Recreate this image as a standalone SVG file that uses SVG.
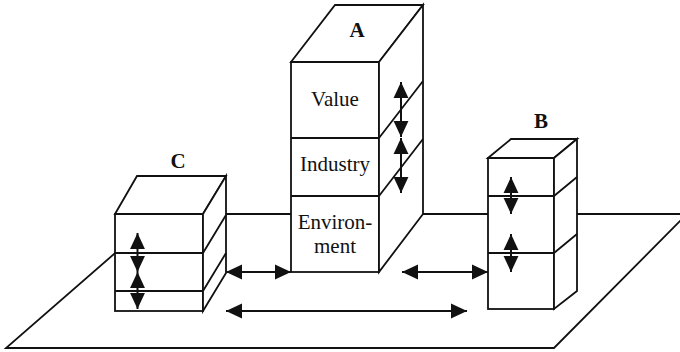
<svg xmlns="http://www.w3.org/2000/svg" width="680" height="352" viewBox="0 0 680 352">
<style>
.s{fill:#fff;stroke:#111;stroke-width:1.8;stroke-linejoin:miter}
.l{fill:none;stroke:#111;stroke-width:1.8}
.a{fill:none;stroke:#111;stroke-width:2;marker-start:url(#h);marker-end:url(#h)}
.t{font-family:"Liberation Serif","Times New Roman",serif;font-size:21px;fill:#111;text-anchor:middle}
.b{font-family:"Liberation Serif","Times New Roman",serif;font-size:21px;font-weight:bold;fill:#111;text-anchor:middle}
</style>
<defs>
<marker id="h" markerUnits="userSpaceOnUse" markerWidth="16" markerHeight="16" viewBox="0 0 14 14" refX="14" refY="7" orient="auto-start-reverse">
<path d="M0,0.5 L14,7 L0,13.5 Z" fill="#111"/>
</marker>
</defs>
<g id="plane">
<polygon class="s" points="160,214 687,214 554,348 6,348"/>
</g>
<g id="towerC">
<rect class="s" x="115" y="214" width="88" height="97"/>
<polygon class="s" points="115,214 137,176 226,176 203,214"/>
<polygon class="s" points="203,214 226,176 226,273 203,311"/>
<path class="l" d="M115,253H203M115,291H203M203,253L226,215M203,291L226,253"/>
<text class="b" x="178" y="168">C</text>
</g>
<g id="towerA">
<rect class="s" x="291" y="62" width="88" height="210"/>
<polygon class="s" points="291,62 335,5 423,5 379,62"/>
<polygon class="s" points="379,62 423,5 423,214 379,272"/>
<path class="l" d="M291,138H379M291,196H379M379,138L423,81M379,196L423,139"/>
<text class="b" x="357" y="37">A</text>
<text class="t" x="335" y="106">Value</text>
<text class="t" x="335" y="171">Industry</text>
<text class="t" x="335" y="229">Environ-</text>
<text class="t" x="335" y="253">ment</text>
</g>
<g id="towerB">
<rect class="s" x="488" y="158" width="66" height="151"/>
<polygon class="s" points="488,158 511,139 577,139 554,158"/>
<polygon class="s" points="554,158 577,139 577,291 554,309"/>
<path class="l" d="M488,196H554M488,253H554M554,196L577,177M554,253L577,234"/>
<text class="b" x="541" y="128">B</text>
</g>
<g id="connectors">
<line class="a" x1="401" y1="82" x2="401" y2="137"/>
<line class="a" x1="401" y1="138" x2="401" y2="193"/>
<line class="a" x1="511" y1="177" x2="511" y2="214"/>
<line class="a" x1="511" y1="234" x2="511" y2="272"/>
<line class="a" x1="137.5" y1="233" x2="137.5" y2="272"/>
<line class="a" x1="137.5" y1="272" x2="137.5" y2="309"/>
<line class="a" x1="226" y1="272" x2="291" y2="272"/>
<line class="a" x1="402" y1="272" x2="488" y2="272"/>
<line class="a" x1="226" y1="311" x2="467" y2="311"/>
</g>
</svg>
